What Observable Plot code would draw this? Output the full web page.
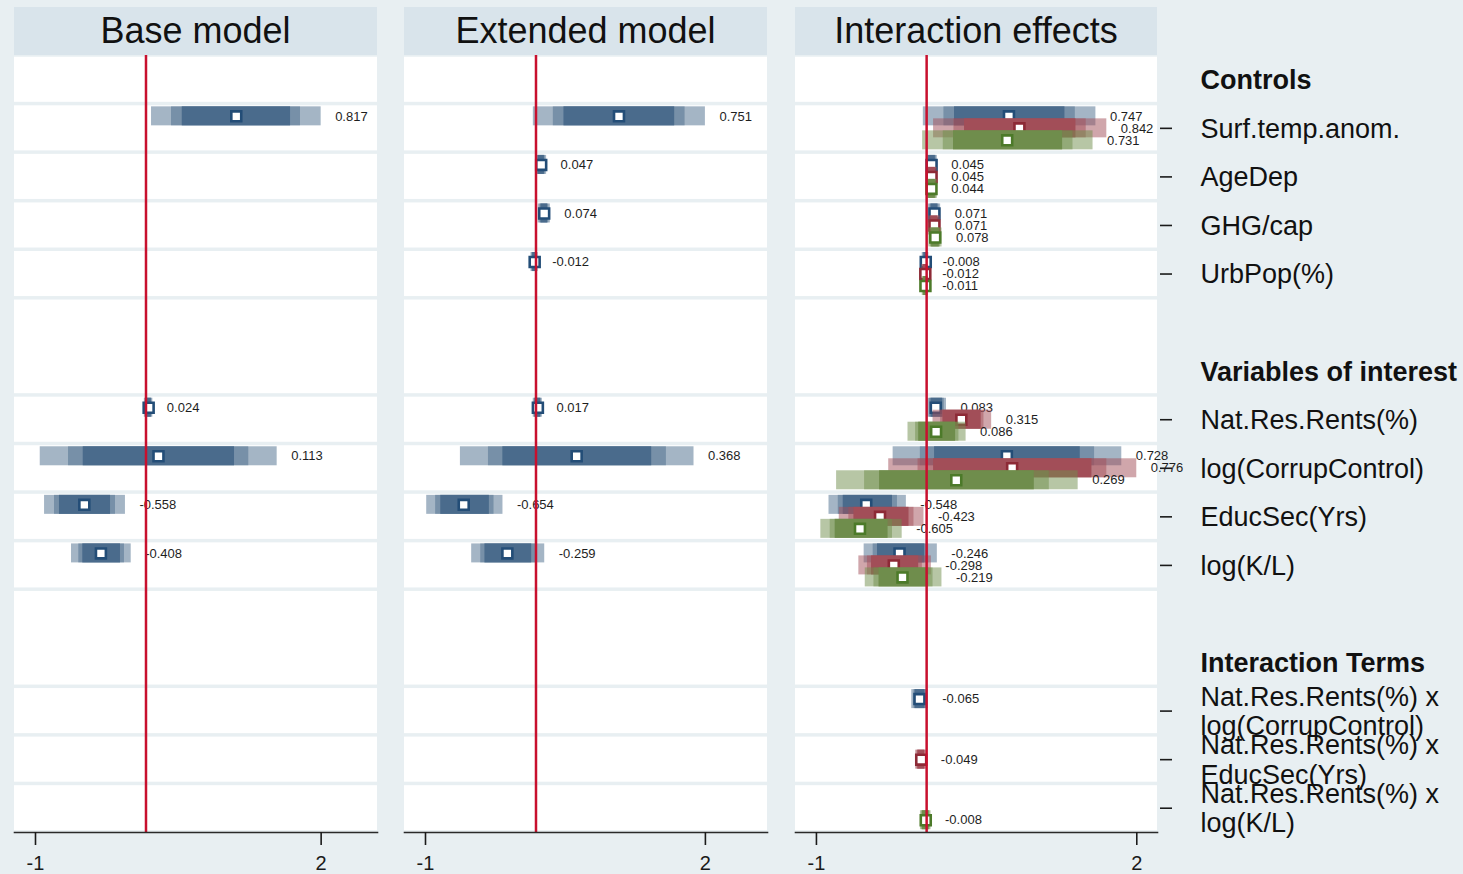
<!DOCTYPE html>
<html><head><meta charset="utf-8">
<script src="https://cdn.jsdelivr.net/npm/d3@7"></script>
<script src="https://cdn.jsdelivr.net/npm/@observablehq/plot@0.6"></script>
<style>
html,body{margin:0;padding:0;}
body{background:#e8eff2;width:1463px;height:874px;overflow:hidden;position:relative;font-family:"Liberation Sans",Arial,sans-serif;}
.hdr{position:absolute;top:7px;height:48px;background:#d9e4eb;text-align:center;font-size:36px;line-height:48px;color:#111;white-space:nowrap;}
.pnl{position:absolute;top:55px;line-height:0;}
.pnl svg{overflow:visible;display:block;}
</style></head><body>
<script>
// ---------- rows (y categories) ----------
const rowKeys = ["Controls","Surf.temp.anom.","AgeDep","GHG/cap","UrbPop(%)","blank1",
  "Variables of interest","Nat.Res.Rents(%)","log(CorrupControl)","EducSec(Yrs)","log(K/L)","blank2",
  "Interaction Terms","Nat.Res.Rents(%) x\nlog(CorrupControl)","Nat.Res.Rents(%) x\nEducSec(Yrs)","Nat.Res.Rents(%) x\nlog(K/L)"];
const headingRows = ["Controls","Variables of interest","Interaction Terms"];
const blankRows = ["blank1","blank2"];
const mergedRows = ["Variables of interest","Interaction Terms"];
const controls = ["Surf.temp.anom.","AgeDep","GHG/cap","UrbPop(%)"];
const interest = ["Nat.Res.Rents(%)","log(CorrupControl)","EducSec(Yrs)","log(K/L)"];
const interTerms = ["Nat.Res.Rents(%) x\nlog(CorrupControl)","Nat.Res.Rents(%) x\nEducSec(Yrs)","Nat.Res.Rents(%) x\nlog(K/L)"];

// ---------- titles & ticks ----------
const panelTitles = ["Base model","Extended model","Interaction effects"];
const xTickLabels = ["-1","2"];

// ---------- Base model ----------
const baseVars = ["Surf.temp.anom.", ...interest];
const baseCoef = [0.817, 0.024, 0.113, -0.558, -0.408];
const baseLo99 = [0.050, -0.015, -0.957, -0.918, -0.674];
const baseHi99 = [1.585, 0.062, 1.187, -0.186, -0.134];
const baseLo95 = [0.231, -0.006, -0.701, -0.828, -0.608];
const baseHi95 = [1.398, 0.053, 0.930, -0.276, -0.195];
const baseLo90 = [0.328, 0.000, -0.568, -0.783, -0.572];
const baseHi90 = [1.308, 0.048, 0.801, -0.321, -0.231];

// ---------- Extended model ----------
const extVars = [...controls, ...interest];
const extCoef = [0.751, 0.047, 0.074, -0.012, 0.017, 0.368, -0.654, -0.259];
const extLo99 = [-0.024, 0.000, 0.020, -0.045, -0.025, -0.684, -0.989, -0.582];
const extHi99 = [1.533, 0.096, 0.130, 0.020, 0.058, 1.430, -0.299, 0.079];
const extLo95 = [0.157, 0.012, 0.035, -0.036, -0.015, -0.430, -0.908, -0.500];
const extHi95 = [1.349, 0.084, 0.115, 0.011, 0.048, 1.180, -0.380, -0.003];
const extLo90 = [0.253, 0.020, 0.045, -0.030, -0.008, -0.300, -0.862, -0.462];
const extHi90 = [1.255, 0.076, 0.105, 0.005, 0.042, 1.047, -0.422, -0.039];

// ---------- Interaction effects: series A (blue) ----------
const intVarsA = [...controls, ...interest, interTerms[0]];
const intCoefA = [0.747, 0.045, 0.071, -0.008, 0.083, 0.728, -0.548, -0.246, -0.065];
const intLo99A = [-0.030, 0.000, 0.015, -0.040, 0.005, -0.304, -0.886, -0.567, -0.135];
const intHi99A = [1.536, 0.097, 0.127, 0.020, 0.180, 1.771, -0.184, 0.097, 0.015];
const intLo95A = [0.157, 0.010, 0.030, -0.031, 0.025, -0.057, -0.802, -0.485, -0.115];
const intHi95A = [1.349, 0.087, 0.112, 0.012, 0.160, 1.524, -0.265, 0.018, 0.000];
const intLo90A = [0.253, 0.018, 0.040, -0.025, 0.040, 0.072, -0.757, -0.446, -0.105];
const intHi90A = [1.255, 0.079, 0.102, 0.007, 0.145, 1.394, -0.310, -0.018, -0.015];

// ---------- series B (red) ----------
const intVarsB = [...controls, ...interest, interTerms[1]];
const intCoefB = [0.842, 0.045, 0.071, -0.012, 0.315, 0.776, -0.423, -0.298, -0.049];
const intLo99B = [0.063, 0.000, 0.015, -0.045, 0.058, -0.344, -0.793, -0.615, -0.100];
const intHi99B = [1.635, 0.097, 0.127, 0.014, 0.590, 1.907, -0.024, 0.043, 0.002];
const intLo95B = [0.248, 0.010, 0.030, -0.036, 0.127, -0.078, -0.706, -0.537, -0.088];
const intHi95B = [1.448, 0.087, 0.112, 0.006, 0.520, 1.635, -0.115, -0.039, -0.010];
const intLo90B = [0.344, 0.018, 0.040, -0.030, 0.148, 0.063, -0.660, -0.500, -0.080];
const intHi90B = [1.355, 0.079, 0.102, 0.001, 0.495, 1.500, -0.160, -0.072, -0.018];

// ---------- series C (green) ----------
const intVarsC = [...controls, ...interest, interTerms[2]];
const intCoefC = [0.731, 0.044, 0.078, -0.011, 0.086, 0.269, -0.605, -0.219, -0.008];
const intLo99C = [-0.036, 0.000, 0.020, -0.040, -0.169, -0.817, -0.960, -0.557, -0.056];
const intHi99C = [1.510, 0.097, 0.140, 0.014, 0.358, 1.375, -0.222, 0.139, 0.040];
const intLo95C = [0.151, 0.010, 0.035, -0.032, -0.100, -0.563, -0.875, -0.478, -0.045];
const intHi95C = [1.328, 0.087, 0.125, 0.006, 0.293, 1.113, -0.310, 0.058, 0.029];
const intLo90C = [0.244, 0.018, 0.045, -0.027, -0.072, -0.427, -0.830, -0.432, -0.038];
const intHi90C = [1.234, 0.079, 0.115, 0.002, 0.263, 0.977, -0.350, 0.018, 0.022];

// ---------- styling ----------
const fills = ["#4a6b8c", "#a24e58", "#6f8d4c"];
const strokes = ["#234d77", "#8d2a36", "#4c7a29"];
const seriesDy = [-12, 0, 12];
const xDomain = [-1.19, 2.095];
const plotH = 777, marginB = 42, barH = 19, gap = 1.75;
const bw = plotH / rowKeys.length;

function makeRows(vars, coef, lo99, hi99, lo95, hi95, lo90, hi90) {
  return vars.map((v, i) => ({v, coef: coef[i], lo99: lo99[i], hi99: hi99[i], lo95: lo95[i], hi95: hi95[i], lo90: lo90[i], hi90: hi90[i]}));
}

function seriesMarks(data, k) {
  const dy = seriesDy[k];
  const pad = (bw - barH) / 2;
  const bar = {y: "v", insetTop: pad + dy, insetBottom: pad - dy};
  return [
    Plot.barX(data, {...bar, x1: "lo99", x2: "hi99", fill: fills[k], fillOpacity: 0.5}),
    Plot.barX(data, {...bar, x1: "lo95", x2: "hi95", fill: fills[k], fillOpacity: 0.5}),
    Plot.barX(data, {...bar, x1: "lo90", x2: "hi90", fill: fills[k]}),
    Plot.dot(data, {x: "coef", y: "v", dy, symbol: "square", r: 5.6, fill: "white", stroke: strokes[k], strokeWidth: 2.6}),
    Plot.text(data, {x: "hi99", y: "v", dy, dx: 14, text: d => d.coef.toFixed(3), textAnchor: "start", fontSize: 13, fill: "#1e1e1e"})
  ];
}

function panel(idx, left, frameW, series, withLabels) {
  const hdr = document.createElement("div");
  hdr.className = "hdr";
  hdr.style.left = left + "px";
  hdr.style.width = frameW + "px";
  hdr.textContent = panelTitles[idx];
  document.body.appendChild(hdr);

  const all = series.flatMap(s => s.data);
  const xTicks = [-1, d3.max(all, d => d.hi99)];
  const labelOf = new Map(xTicks.map((t, i) => [t, xTickLabels[i]]));
  const band = {y: d => d, x1: () => xDomain[0], x2: () => xDomain[1], fill: "white"};
  const marks = [
    Plot.barX(rowKeys.filter(k => !blankRows.includes(k) && !mergedRows.includes(k)), {...band, insetTop: gap, insetBottom: gap}),
    Plot.barX(blankRows, {...band, insetTop: gap, insetBottom: -1}),
    Plot.barX(mergedRows, {...band, insetTop: 0, insetBottom: gap}),
    ...series.flatMap(s => seriesMarks(s.data, s.k)),
    Plot.ruleX([0], {stroke: "#c8102e", strokeWidth: 2.5}),
    Plot.frame({anchor: "bottom", stroke: "#2a2a2a", strokeWidth: 1.6}),
    Plot.axisX({ticks: xTicks, tickFormat: d => labelOf.get(d), tickSize: 13, tickPadding: 10, fontSize: 20, strokeWidth: 1.6})
  ];
  const marginR = withLabels ? 1463 - (left + frameW) : 0;
  if (withLabels) {
    const varRows = rowKeys.filter(k => !headingRows.includes(k) && !blankRows.includes(k));
    marks.push(
      Plot.axisY({anchor: "right", ticks: varRows, tickSize: 12, tickFormat: () => "", strokeWidth: 1.6, dx: 2, label: null}),
      Plot.text(varRows, {y: d => d, text: d => d, frameAnchor: "right", dx: 43, textAnchor: "start", fontSize: 27, lineHeight: 1.08, fill: "#111"}),
      Plot.text(headingRows, {y: d => d, text: d => d, frameAnchor: "right", dx: 43, dy: 1, textAnchor: "start", fontSize: 27, fontWeight: "bold", fill: "#111"})
    );
  }
  const chart = Plot.plot({
    width: frameW + marginR,
    height: plotH + marginB,
    marginTop: 0, marginBottom: marginB, marginLeft: 0, marginRight: marginR,
    x: {domain: xDomain},
    y: {domain: rowKeys, padding: 0, round: false, ...(withLabels ? {} : {axis: null})},
    style: {background: "transparent", color: "#1a1a1a", fontFamily: "'Liberation Sans', Arial, sans-serif", overflow: "visible"},
    marks
  });
  const wrap = document.createElement("div");
  wrap.className = "pnl";
  wrap.style.left = left + "px";
  wrap.appendChild(chart);
  document.body.appendChild(wrap);
}

panel(0, 14, 363, [{k: 0, data: makeRows(baseVars, baseCoef, baseLo99, baseHi99, baseLo95, baseHi95, baseLo90, baseHi90)}], false);
panel(1, 404, 363, [{k: 0, data: makeRows(extVars, extCoef, extLo99, extHi99, extLo95, extHi95, extLo90, extHi90)}], false);
panel(2, 795, 362, [
  {k: 0, data: makeRows(intVarsA, intCoefA, intLo99A, intHi99A, intLo95A, intHi95A, intLo90A, intHi90A)},
  {k: 1, data: makeRows(intVarsB, intCoefB, intLo99B, intHi99B, intLo95B, intHi95B, intLo90B, intHi90B)},
  {k: 2, data: makeRows(intVarsC, intCoefC, intLo99C, intHi99C, intLo95C, intHi95C, intLo90C, intHi90C)}
], true);
</script>
</body></html>
